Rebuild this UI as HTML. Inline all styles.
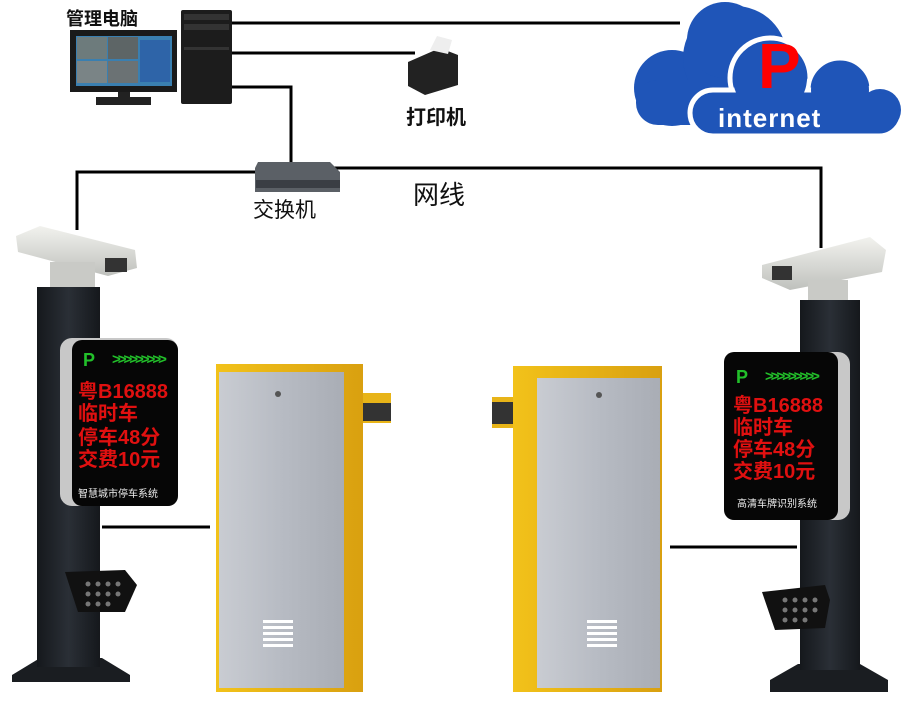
<!DOCTYPE html>
<html><head><meta charset="utf-8"><style>
html,body{margin:0;padding:0;background:#fff;width:910px;height:720px;overflow:hidden}
svg text{font-family:"Liberation Sans","Noto Sans CJK SC",sans-serif}
</style></head><body>
<svg width="910" height="720" viewBox="0 0 910 720" xmlns="http://www.w3.org/2000/svg">
<defs>
<linearGradient id="sil" x1="0" x2="1"><stop offset="0" stop-color="#c9ccd2"/><stop offset="0.5" stop-color="#b7bbc3"/><stop offset="1" stop-color="#a9adb5"/></linearGradient>
<linearGradient id="yel" x1="0" x2="1"><stop offset="0" stop-color="#f2c21a"/><stop offset="1" stop-color="#d9a010"/></linearGradient>
<linearGradient id="pole" x1="0" x2="1"><stop offset="0" stop-color="#15181c"/><stop offset="0.5" stop-color="#2a2f36"/><stop offset="1" stop-color="#15181c"/></linearGradient>
<linearGradient id="cam" x1="0" y1="0" x2="0" y2="1"><stop offset="0" stop-color="#f2f2ee"/><stop offset="1" stop-color="#bfc1bd"/></linearGradient>
</defs>

<g stroke="#000" stroke-width="3" fill="none">
<polyline points="232,23 680,23"/>
<polyline points="232,53 415,53"/>
<polyline points="232,87 291,87 291,164"/>
<polyline points="255,172 77,172 77,230"/>
<polyline points="332,168 821,168 821,248"/>
<line x1="102" y1="527" x2="210" y2="527"/>
<line x1="670" y1="547" x2="797" y2="547"/>
</g>

<!-- cloud back -->
<g fill="#1f55b8">
<circle cx="672" cy="88" r="38"/><circle cx="735" cy="58" r="52"/><circle cx="725" cy="40" r="38"/>
<rect x="636" y="80" width="120" height="45" rx="22"/>
</g>
<!-- cloud front with white outline -->
<g fill="#1f55b8" stroke="#fff" stroke-width="5">
<circle cx="770" cy="78" r="40"/><circle cx="840" cy="90" r="32"/><circle cx="880" cy="110" r="24"/>
<rect x="690" y="90" width="212" height="46" rx="23"/>
</g>
<g fill="#1f55b8">
<circle cx="770" cy="78" r="37"/><circle cx="840" cy="90" r="29"/><circle cx="880" cy="110" r="21"/>
<rect x="693" y="93" width="206" height="40" rx="20"/>
</g>
<text x="758" y="88" font-size="64" font-weight="bold" fill="#f00" font-family="Liberation Sans">P</text>
<text x="718" y="127" font-size="26" fill="#fff" font-family="Liberation Mono" font-weight="bold" letter-spacing="1">internet</text>

<!-- PC -->
<text x="66" y="25" font-size="18" font-weight="bold" fill="#111">管理电脑</text>
<rect x="70" y="30" width="107" height="62" fill="#1a1a1a"/>
<rect x="76" y="36" width="96" height="50" fill="#3a7fb0"/>
<rect x="77" y="37" width="30" height="22" fill="#6d7b7c"/><rect x="108" y="37" width="30" height="22" fill="#5d6566"/>
<rect x="77" y="61" width="30" height="22" fill="#7a8486"/><rect x="108" y="61" width="30" height="22" fill="#6b7274"/>
<rect x="140" y="40" width="30" height="42" fill="#2e64a8"/>
<rect x="118" y="92" width="12" height="6" fill="#222"/><rect x="96" y="97" width="55" height="8" fill="#222"/>
<rect x="181" y="10" width="51" height="94" rx="2" fill="#1c1c1c"/>
<rect x="184" y="14" width="45" height="6" fill="#333"/><rect x="184" y="24" width="45" height="6" fill="#333"/>
<rect x="184" y="47" width="45" height="3" fill="#333"/>

<!-- printer -->
<path d="M408 62 L440 48 L458 55 L458 85 L425 95 L408 86 Z" fill="#222"/>
<path d="M430 50 L437 36 L452 40 L448 54 Z" fill="#eee"/>
<text x="406" y="124" font-size="20" font-weight="bold" fill="#111">打印机</text>

<!-- switch -->
<path d="M258 162 L330 162 L340 172 L340 192 L255 192 L255 168 Z" fill="#5b6066"/>
<rect x="256" y="180" width="84" height="8" fill="#3a3e44"/>
<text x="253" y="217" font-size="21" fill="#111">交换机</text>
<text x="413" y="204" font-size="26" fill="#111">网线</text>

<!-- LEFT POLE -->
<path d="M12 675 L40 658 L102 658 L130 675 L130 682 L12 682 Z" fill="#1a1d21"/>
<rect x="37" y="287" width="63" height="380" fill="url(#pole)"/>
<path d="M16 236 L40 226 L135 250 L137 268 L108 276 L18 252 Z" fill="url(#cam)"/>
<rect x="105" y="258" width="22" height="14" fill="#333"/>
<rect x="50" y="262" width="45" height="25" fill="#c9cac6"/>
<rect x="60" y="338" width="118" height="168" rx="12" fill="#c8c8c8"/>
<rect x="72" y="340" width="106" height="166" rx="10" fill="#060606"/>
<text x="83" y="366" font-size="18" font-weight="bold" fill="#22c02a">P</text>
<text x="112" y="364" font-size="15" font-weight="bold" fill="#22c02a" letter-spacing="-3">&gt;&gt;&gt;&gt;&gt;&gt;&gt;&gt;&gt;</text>
<g fill="#e01010" font-size="20" font-weight="bold">
<text x="78" y="398">粤B16888</text>
<text x="78" y="420">临时车</text>
<text x="78" y="444">停车48分</text>
<text x="78" y="466">交费10元</text>
</g>
<text x="78" y="497" font-size="10" fill="#eee">智慧城市停车系统</text>
<path d="M65 572 L125 570 L137 585 L125 612 L78 612 Z" fill="#111"/>
<g fill="#777"><circle cx="88" cy="584" r="2.5"/><circle cx="98" cy="584" r="2.5"/><circle cx="108" cy="584" r="2.5"/><circle cx="118" cy="584" r="2.5"/><circle cx="88" cy="594" r="2.5"/><circle cx="98" cy="594" r="2.5"/><circle cx="108" cy="594" r="2.5"/><circle cx="118" cy="594" r="2.5"/><circle cx="88" cy="604" r="2.5"/><circle cx="98" cy="604" r="2.5"/><circle cx="108" cy="604" r="2.5"/></g>

<!-- LEFT BARRIER -->
<rect x="345" y="393" width="46" height="30" fill="#e8b418"/>
<rect x="360" y="403" width="31" height="18" fill="#333"/>
<rect x="216" y="364" width="147" height="328" fill="url(#yel)"/>
<rect x="219" y="372" width="125" height="316" fill="url(#sil)"/>
<circle cx="278" cy="394" r="3" fill="#555"/>
<g fill="#fff"><rect x="263" y="620" width="30" height="3"/><rect x="263" y="626" width="30" height="3"/><rect x="263" y="632" width="30" height="3"/><rect x="263" y="638" width="30" height="3"/><rect x="263" y="644" width="30" height="3"/></g>

<!-- RIGHT BARRIER -->
<rect x="492" y="397" width="40" height="31" fill="#e8b418"/>
<rect x="492" y="402" width="22" height="22" fill="#333"/>
<rect x="513" y="366" width="149" height="326" fill="url(#yel)"/>
<rect x="537" y="378" width="123" height="310" fill="url(#sil)"/>
<circle cx="599" cy="395" r="3" fill="#555"/>
<g fill="#fff"><rect x="587" y="620" width="30" height="3"/><rect x="587" y="626" width="30" height="3"/><rect x="587" y="632" width="30" height="3"/><rect x="587" y="638" width="30" height="3"/><rect x="587" y="644" width="30" height="3"/></g>

<!-- RIGHT POLE -->
<path d="M770 680 L798 664 L860 664 L888 680 L888 692 L770 692 Z" fill="#1a1d21"/>
<rect x="800" y="300" width="60" height="370" fill="url(#pole)"/>
<path d="M762 265 L870 237 L886 250 L882 272 L790 290 L762 278 Z" fill="url(#cam)"/>
<rect x="772" y="266" width="20" height="14" fill="#333"/>
<rect x="808" y="280" width="40" height="20" fill="#c9cac6"/>
<rect x="724" y="352" width="126" height="168" rx="12" fill="#c8c8c8"/>
<rect x="724" y="352" width="114" height="168" rx="10" fill="#060606"/>
<text x="736" y="383" font-size="18" font-weight="bold" fill="#22c02a">P</text>
<text x="765" y="381" font-size="15" font-weight="bold" fill="#22c02a" letter-spacing="-3">&gt;&gt;&gt;&gt;&gt;&gt;&gt;&gt;&gt;</text>
<g fill="#e01010" font-size="20" font-weight="bold">
<text x="733" y="412">粤B16888</text>
<text x="733" y="434">临时车</text>
<text x="733" y="456">停车48分</text>
<text x="733" y="478">交费10元</text>
</g>
<text x="737" y="507" font-size="10" fill="#eee">高清车牌识别系统</text>
<path d="M762 592 L825 585 L830 600 L825 628 L775 630 Z" fill="#111"/>
<g fill="#777"><circle cx="785" cy="600" r="2.5"/><circle cx="795" cy="600" r="2.5"/><circle cx="805" cy="600" r="2.5"/><circle cx="815" cy="600" r="2.5"/><circle cx="785" cy="610" r="2.5"/><circle cx="795" cy="610" r="2.5"/><circle cx="805" cy="610" r="2.5"/><circle cx="815" cy="610" r="2.5"/><circle cx="785" cy="620" r="2.5"/><circle cx="795" cy="620" r="2.5"/><circle cx="805" cy="620" r="2.5"/></g>
</svg>
</body></html>
